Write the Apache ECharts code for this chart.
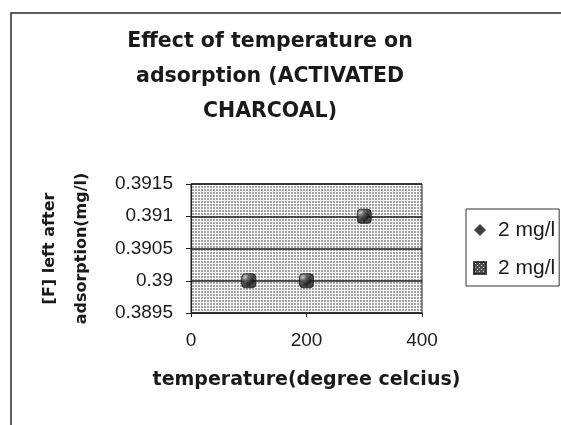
<!DOCTYPE html>
<html>
<head>
<meta charset="utf-8">
<script src="https://cdn.jsdelivr.net/npm/echarts@6/dist/echarts.min.js"></script>
<style>
  html, body { margin: 0; padding: 0; background: #fff; }
  #chart { width: 561px; height: 425px; }
</style>
</head>
<body>
<div id="chart"></div>
<script>
// Temperature (°C) and fluoride left after adsorption (mg/l)
const temperatures = [100, 200, 300];
const fluorideLeft = [0.39, 0.39, 0.391];
const seriesNames = ['2 mg/l', '2 mg/l '];
const xTicks = [0, 200, 400];
const yTicks = [0.3895, 0.39, 0.3905, 0.391, 0.3915];

// Stippled fills drawn on small canvas tiles
function stipple(size, bg, dot, cells) {
  const c = document.createElement('canvas');
  c.width = size; c.height = size;
  const ctx = c.getContext('2d');
  ctx.fillStyle = bg; ctx.fillRect(0, 0, size, size);
  ctx.fillStyle = dot;
  cells.forEach(([x, y, w, h]) => ctx.fillRect(x, y, w, h));
  return { image: c, repeat: 'repeat' };
}
const plotFill = stipple(3, '#fafafa', '#a4a4a4', [[0, 0, 2, 2]]);
const markerFill = stipple(4, '#222222', '#c8c8c8', [[1, 1, 1, 1], [3, 3, 1, 1]]);

const points = temperatures.map((t, i) => [t, fluorideLeft[i]]);

const chart = echarts.init(document.getElementById('chart'), null, { renderer: 'canvas' });
chart.setOption({
  backgroundColor: '#ffffff',
  animation: false,
  title: {
    text: 'Effect of temperature on\nadsorption (ACTIVATED\nCHARCOAL)',
    left: 270,
    textAlign: 'center',
    top: 24,
    padding: 0,
    textStyle: {
      fontFamily: 'DejaVu Sans',
      fontWeight: 'bold',
      fontSize: 20.5,
      lineHeight: 35,
      color: '#1a1a1a'
    }
  },
  legend: {
    orient: 'vertical',
    left: 466,
    top: 209,
    padding: [10, 4, 7, 7],
    itemGap: 16,
    itemWidth: 12,
    itemHeight: 12,
    borderColor: '#333',
    borderWidth: 1,
    formatter: name => name.trim(),
    textStyle: {
      fontFamily: 'Liberation Sans', fontSize: 21, lineHeight: 22, color: '#1a1a1a',
      padding: [0, 0, 0, 7]
    },
    data: [
      { name: seriesNames[0], icon: 'diamond' },
      { name: seriesNames[1], icon: 'rect' }
    ]
  },
  grid: {
    left: 191, top: 184, width: 231, height: 129,
    show: true,
    backgroundColor: plotFill,
    borderColor: '#222',
    borderWidth: 1
  },
  xAxis: {
    type: 'value',
    min: xTicks[0],
    max: xTicks[xTicks.length - 1],
    interval: xTicks[1] - xTicks[0],
    name: 'temperature(degree celcius)',
    nameLocation: 'middle',
    nameGap: 58,
    nameTextStyle: { fontFamily: 'DejaVu Sans', fontWeight: 'bold', fontSize: 19, color: '#1a1a1a' },
    axisLine: { show: true, onZero: false, lineStyle: { color: '#222', width: 1 } },
    axisTick: { show: true, inside: false, length: 4, lineStyle: { color: '#222' } },
    axisLabel: { margin: 18, fontFamily: 'Liberation Sans', fontSize: 19, color: '#1a1a1a' },
    splitLine: { show: false }
  },
  yAxis: {
    type: 'value',
    min: yTicks[0],
    max: yTicks[yTicks.length - 1],
    interval: 0.0005,
    name: '[F] left after\nadsorption(mg/l)',
    nameLocation: 'middle',
    nameRotate: 90,
    nameGap: 93,
    nameTextStyle: { fontFamily: 'DejaVu Sans', fontWeight: 'bold', fontSize: 16, lineHeight: 32, color: '#1a1a1a', align: 'center' },
    axisLine: { show: true, lineStyle: { color: '#222', width: 1 } },
    axisTick: { show: true, inside: false, length: 5, lineStyle: { color: '#222' } },
    axisLabel: {
      margin: 18,
      fontFamily: 'Liberation Sans', fontSize: 19, color: '#1a1a1a',
      formatter: v => String(parseFloat(v.toFixed(4)))
    },
    splitLine: { show: true, lineStyle: { color: '#1e1e1e', width: 1.5 } }
  },
  series: [
    {
      name: seriesNames[0],
      type: 'scatter',
      symbol: 'diamond',
      symbolSize: 12,
      itemStyle: { color: '#111' },
      data: points
    },
    {
      name: seriesNames[1],
      type: 'scatter',
      symbol: 'roundRect',
      symbolSize: 14,
      itemStyle: { color: markerFill, borderColor: '#1a1a1a', borderWidth: 1 },
      data: points
    }
  ],
  graphic: [
    {
      type: 'rect',
      shape: { x: 11, y: 13, width: 600, height: 500 },
      style: { fill: 'none', stroke: '#2a2a2a', lineWidth: 1.5 },
      silent: true
    }
  ]
});
</script>
</body>
</html>
